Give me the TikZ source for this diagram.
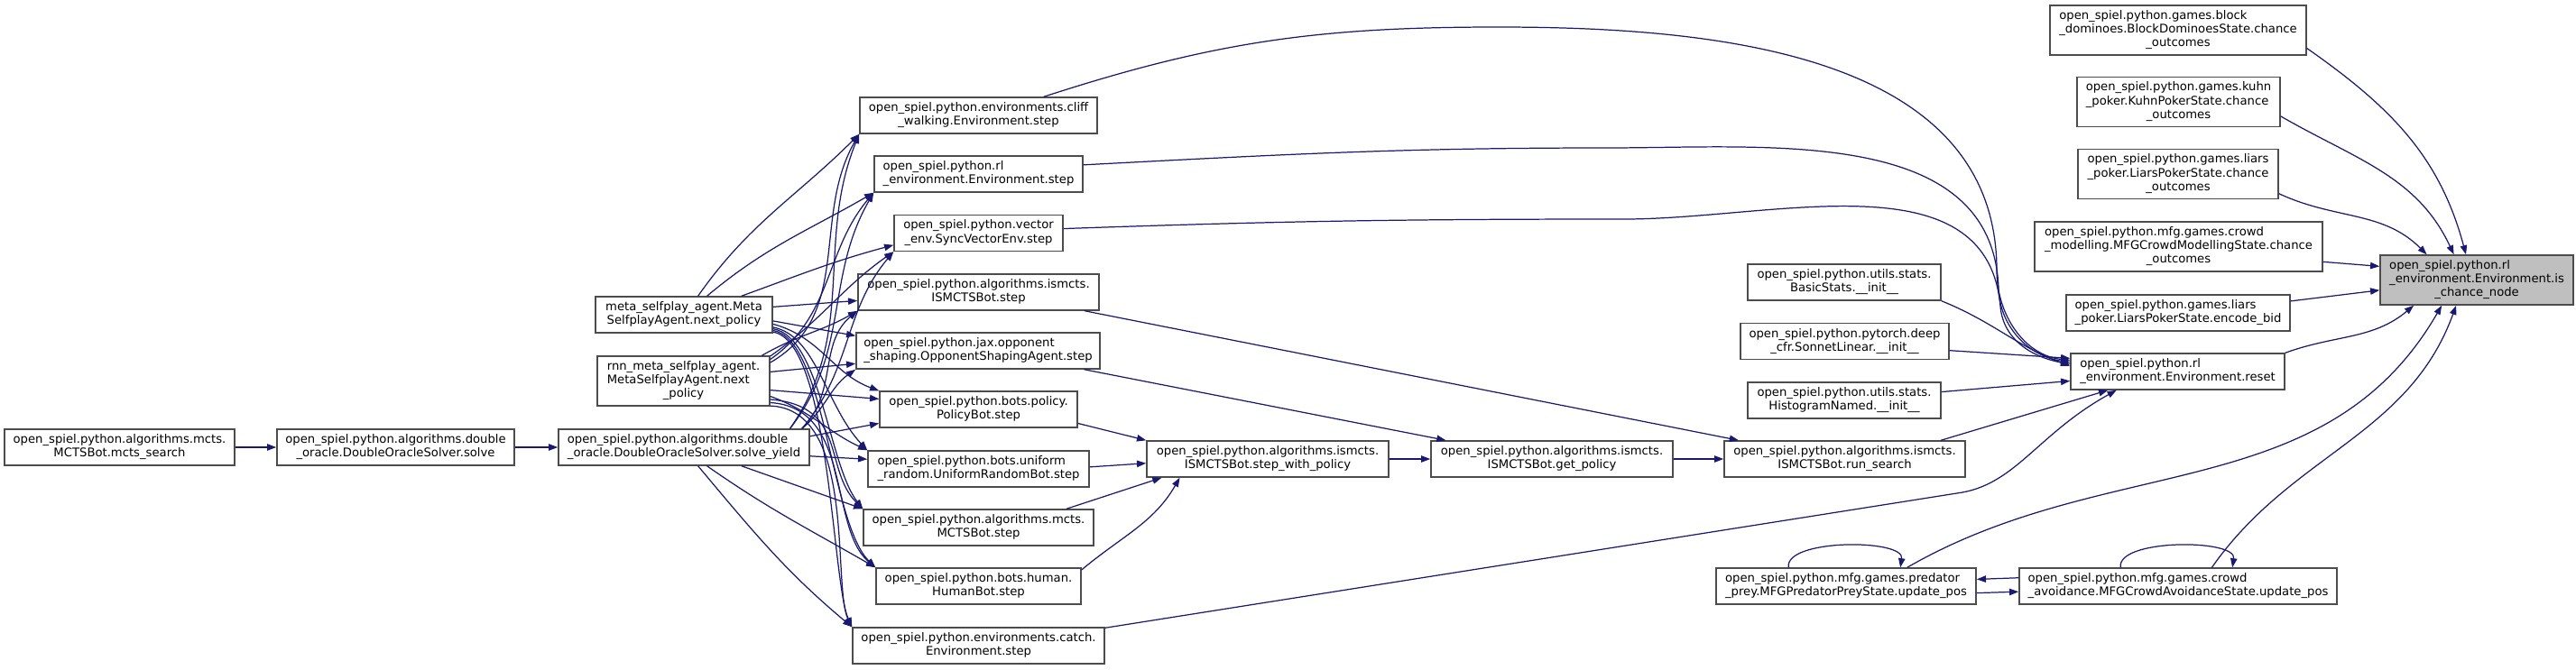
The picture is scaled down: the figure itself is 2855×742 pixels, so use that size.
\documentclass[tikz,border=0pt]{standalone}
\usepackage{fontspec}
\setmainfont{DejaVu Sans}
\usetikzlibrary{arrows.meta}
\definecolor{edgeblue}{RGB}{25,25,112}
\definecolor{boxgray}{RGB}{191,191,191}
\newcommand{\ltwo}[2]{\begin{tabular}{@{}l@{}}#1\\\multicolumn{1}{@{}c@{}}{#2}\end{tabular}}
\newcommand{\lthree}[3]{\begin{tabular}{@{}l@{}}#1\\#2\\\multicolumn{1}{@{}c@{}}{#3}\end{tabular}}

\begin{document}
\begin{tikzpicture}[x=0.01cm, y=0.01cm,
  fn/.style={draw=black!70, line width=0.4pt, fill=white, inner xsep=1pt, inner ysep=1.42pt,
    font=\fontsize{3.75pt}{4.27pt}\selectfont},
  call/.style={draw=edgeblue, line width=0.35pt, -{Triangle[length=2.9pt,width=2.1pt]}}]
\useasboundingbox (0,0) rectangle (2855,-742);

\node[fn, minimum width=2.55cm] (mctssearch) at (132.5,-496) {\ltwo{open\_spiel.python.algorithms.mcts.}{MCTSBot.mcts\_search}};
\node[fn, minimum width=2.63cm] (solve) at (438.5,-496) {\ltwo{open\_spiel.python.algorithms.double}{\_oracle.DoubleOracleSolver.solve}};
\node[fn, minimum width=2.78cm] (solveyield) at (758,-496) {\ltwo{open\_spiel.python.algorithms.double}{\_oracle.DoubleOracleSolver.solve\_yield}};
\node[fn, minimum width=1.96cm] (meta) at (758,-349) {\ltwo{meta\_selfplay\_agent.Meta}{SelfplayAgent.next\_policy}};
\node[fn, minimum width=1.91cm] (rnn) at (757.5,-422.5) {\lthree{rnn\_meta\_selfplay\_agent.}{MetaSelfplayAgent.next}{\_policy}};

\node[fn, minimum width=2.63cm] (cliff) at (1084.5,-128) {\ltwo{open\_spiel.python.environments.cliff}{\_walking.Environment.step}};
\node[fn, minimum width=2.31cm] (rlstep) at (1084.5,-193) {\ltwo{open\_spiel.python.rl}{\_environment.Environment.step}};
\node[fn, minimum width=1.87cm] (vector) at (1084.5,-258.5) {\ltwo{open\_spiel.python.vector}{\_env.SyncVectorEnv.step}};
\node[fn, minimum width=2.67cm] (ismstep) at (1084.5,-324) {\ltwo{open\_spiel.python.algorithms.ismcts.}{ISMCTSBot.step}};
\node[fn, minimum width=2.70cm] (opponent) at (1084,-389) {\ltwo{open\_spiel.python.jax.opponent}{\_shaping.OpponentShapingAgent.step}};
\node[fn, minimum width=2.19cm] (policybot) at (1084.5,-454) {\ltwo{open\_spiel.python.bots.policy.}{PolicyBot.step}};
\node[fn, minimum width=2.45cm] (uniform) at (1084.5,-520) {\ltwo{open\_spiel.python.bots.uniform}{\_random.UniformRandomBot.step}};
\node[fn, minimum width=2.55cm] (mctsstep) at (1084.5,-585) {\ltwo{open\_spiel.python.algorithms.mcts.}{MCTSBot.step}};
\node[fn, minimum width=2.27cm] (human) at (1084.5,-650) {\ltwo{open\_spiel.python.bots.human.}{HumanBot.step}};
\node[fn, minimum width=2.79cm] (catch) at (1084.5,-716) {\ltwo{open\_spiel.python.environments.catch.}{Environment.step}};

\node[fn, minimum width=2.68cm] (swp) at (1405,-509) {\ltwo{open\_spiel.python.algorithms.ismcts.}{ISMCTSBot.step\_with\_policy}};
\node[fn, minimum width=2.68cm] (getpolicy) at (1720,-509) {\ltwo{open\_spiel.python.algorithms.ismcts.}{ISMCTSBot.get\_policy}};
\node[fn, minimum width=2.67cm] (runsearch) at (2044.5,-509) {\ltwo{open\_spiel.python.algorithms.ismcts.}{ISMCTSBot.run\_search}};
\node[fn, minimum width=2.14cm] (basic) at (2044,-313) {\ltwo{open\_spiel.python.utils.stats.}{BasicStats.\_\_init\_\_}};
\node[fn, minimum width=2.31cm] (sonnet) at (2044.5,-378.5) {\ltwo{open\_spiel.python.pytorch.deep}{\_cfr.SonnetLinear.\_\_init\_\_}};
\node[fn, minimum width=2.14cm] (histo) at (2044,-444) {\ltwo{open\_spiel.python.utils.stats.}{HistogramNamed.\_\_init\_\_}};
\node[fn, minimum width=2.37cm] (reset) at (2413.5,-412) {\ltwo{open\_spiel.python.rl}{\_environment.Environment.reset}};

\node[fn, minimum width=2.84cm] (block) at (2414,-33.5) {\lthree{open\_spiel.python.games.block}{\_dominoes.BlockDominoesState.chance}{\_outcomes}};
\node[fn, minimum width=2.25cm] (kuhn) at (2414.5,-113) {\lthree{open\_spiel.python.games.kuhn}{\_poker.KuhnPokerState.chance}{\_outcomes}};
\node[fn, minimum width=2.22cm] (liars) at (2414,-193) {\lthree{open\_spiel.python.games.liars}{\_poker.LiarsPokerState.chance}{\_outcomes}};
\node[fn, minimum width=3.19cm] (crowdmod) at (2414.5,-273.5) {\lthree{open\_spiel.python.mfg.games.crowd}{\_modelling.MFGCrowdModellingState.chance}{\_outcomes}};
\node[fn, minimum width=2.48cm] (encode) at (2414,-347) {\ltwo{open\_spiel.python.games.liars}{\_poker.LiarsPokerState.encode\_bid}};
\node[fn, minimum width=2.14cm, fill=boxgray] (ischance) at (2745,-310.5) {\lthree{open\_spiel.python.rl}{\_environment.Environment.is}{\_chance\_node}};
\node[fn, minimum width=2.88cm] (predator) at (2046,-650) {\ltwo{open\_spiel.python.mfg.games.predator}{\_prey.MFGPredatorPreyState.update\_pos}};
\node[fn, minimum width=3.52cm] (crowdav) at (2414,-650) {\ltwo{open\_spiel.python.mfg.games.crowd}{\_avoidance.MFGCrowdAvoidanceState.update\_pos}};

\draw[call] (mctssearch) -- (solve);
\draw[call] (solve) -- (solveyield);

\draw[call] (meta.53) to[out=55,in=225] (cliff.south west);
\draw[call] (meta.39) to[out=40,in=210] (rlstep.south west);
\draw[call] (meta.18) to[out=20,in=195] (vector.188);
\draw[call] (meta.5) -- (ismstep.184);
\draw[call] (meta.-4) -- (opponent.173);
\draw[call] (meta.-6) to[out=-15,in=160] (policybot.north west);
\draw[call] (meta.-8) .. controls (905,-372) and (915,-450) .. (uniform.north west);
\draw[call] (meta.-9) .. controls (910,-374) and (918,-515) .. (mctsstep.north west);
\draw[call] (meta.-10) .. controls (915,-376) and (920,-580) .. (human.north west);
\draw[call] (meta.-11) .. controls (920,-378) and (922,-646) .. (catch.north west);

\draw[call] (rnn.12) to[out=30,in=240] (cliff.south west);
\draw[call] (rnn.14) to[out=35,in=230] (rlstep.south west);
\draw[call] (rnn.16) to[out=35,in=215] (vector.south west);
\draw[call] (rnn.18) to[out=30,in=210] (ismstep.south west);
\draw[call] (rnn.6) -- (opponent.186);
\draw[call] (rnn.-6) -- (policybot.174);
\draw[call] (rnn.-10) to[out=-20,in=155] (uniform.north west);
\draw[call] (rnn.-12) .. controls (940,-450) and (912,-520) .. (mctsstep.north west);
\draw[call] (rnn.-14) .. controls (945,-452) and (918,-585) .. (human.north west);
\draw[call] (rnn.-16) .. controls (950,-454) and (922,-650) .. (catch.north west);

\draw[call] (solveyield.10.4) to[out=55,in=248] (cliff.south west);
\draw[call] (solveyield.10) to[out=52,in=240] (rlstep.south west);
\draw[call] (solveyield.9.5) to[out=50,in=230] (vector.south west);
\draw[call] (solveyield.9.3) to[out=45,in=220] (ismstep.south west);
\draw[call] (solveyield.9.1) to[out=40,in=215] (opponent.south west);
\draw[call] (solveyield.5) -- (policybot.188);
\draw[call] (solveyield.-4) -- (uniform.175);
\draw[call] (solveyield.-18) -- (mctsstep.north west);
\draw[call] (solveyield.-39) to[out=-35,in=150] (human.north west);
\draw[call] (solveyield.-53) to[out=-50,in=140] (catch.north west);

\draw[call] (policybot.-8) -- (swp.north west);
\draw[call] (uniform.1) -- (swp.182);
\draw[call] (mctsstep.12.5) -- (swp.190.8);
\draw[call] (human.9) to[out=40,in=240] (swp.192.5);
\draw[call] (swp) -- (getpolicy);
\draw[call] (opponent.-10.2) -- (getpolicy.170.5);
\draw[call] (getpolicy) -- (runsearch);
\draw[call] (ismstep.-10.7) -- (runsearch.170.5);
\draw[call] (runsearch.11.8) -- (reset.195.2);

\coordinate (catchbend) at (2175,-546);
\draw[call] (catch.8.3) -- (catchbend) .. controls (2235,-535) and (2260,-480) .. (reset.197);
\draw[call] (cliff.16.7) to[out=18,in=180] (1660,-30) to[out=0,in=90] (2213,-300) to[out=-90,in=174] (reset.174);
\draw[call] (rlstep.5) to[out=3,in=180] (1780,-164) to[out=0,in=92] (2215,-320) to[out=-88,in=172] (reset.175);
\draw[call] (vector.3) to[out=2,in=180] (1800,-243) to[out=0,in=95] (2217,-340) to[out=-85,in=170] (reset.176);
\draw[call] (basic.south east) to[out=-22,in=160] (reset.177);
\draw[call] (sonnet.-5.2) -- (reset.173.7);
\draw[call] (histo.5.3) -- (reset.185.3);

\draw[call] (block.-8.6) to[out=-35,in=105] (ischance.113.6);
\draw[call] (kuhn.-8.6) to[out=-30,in=115] (ischance.132.3);
\draw[call] (liars.-11.2) to[out=-25,in=135] (ischance.153);
\draw[call] (crowdmod.-6.3) -- (ischance.172.8);
\draw[call] (encode.6.4) -- (ischance.186.7);
\draw[call] (reset.north east) to[out=20,in=220] (ischance.202.6);
\draw[call] (predator.17.9) to[out=30,in=240] (ischance.216.6);
\draw[call] (crowdav.29.7) to[out=55,in=250] (ischance.231.3);

\draw[call] (predator.162) .. controls +(-5,32) and +(5,32) .. (predator.19);
\draw[call] (crowdav.162) .. controls +(-5,32) and +(5,32) .. (crowdav.19);
\draw[call] (crowdav.177.4) -- (predator.3.2);
\draw[call] (predator.-3.6) -- (crowdav.182.9);
\end{tikzpicture}
\end{document}
